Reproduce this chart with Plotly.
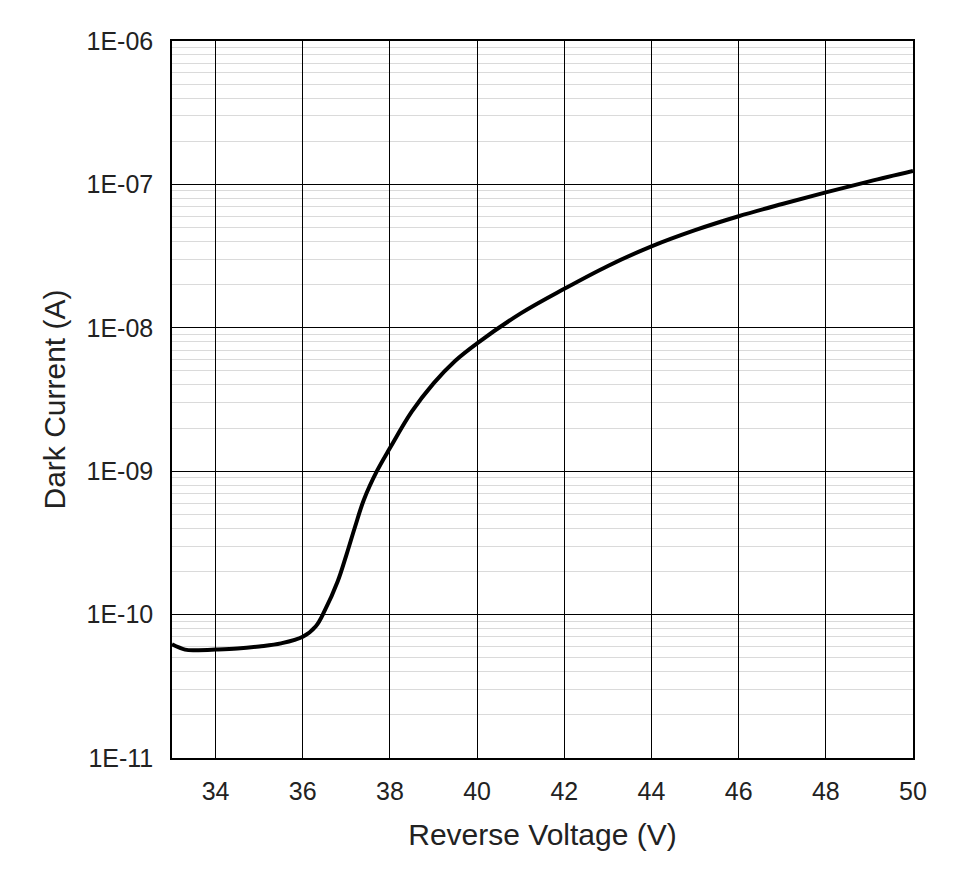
import numpy as np
import plotly.graph_objects as go

voltage = [33.0, 33.3, 33.6, 34.0, 34.5, 35.0, 35.5, 36.0, 36.3, 36.5, 36.8, 37.0, 37.2,
           37.4, 37.7, 38.0, 38.5, 39.0, 39.5, 40.0, 41.0, 42.0, 43.0, 44.0, 45.0, 46.0,
           47.0, 48.0, 49.0, 50.0]
current = [6.2e-11, 5.7e-11, 5.65e-11, 5.7e-11, 5.8e-11, 6.0e-11, 6.3e-11, 7.0e-11, 8.3e-11,
           1.06e-10, 1.7e-10, 2.6e-10, 4.1e-10, 6.3e-10, 1.0e-9, 1.45e-9, 2.6e-9, 4.1e-9,
           5.9e-9, 7.8e-9, 1.26e-8, 1.87e-8, 2.7e-8, 3.7e-8, 4.8e-8, 6.0e-8, 7.3e-8, 8.8e-8,
           1.05e-7, 1.24e-7]

y_ticks = [1e-11, 1e-10, 1e-9, 1e-8, 1e-7, 1e-6]
y_labels = ["1E-11", "1E-10", "1E-09", "1E-08", "1E-07", "1E-06"]
x_ticks = [34, 36, 38, 40, 42, 44, 46, 48, 50]

minor_vals = [m * d for d in y_ticks[:-1] for m in range(2, 10)]

fig = go.Figure(go.Scatter(x=voltage, y=current, mode="lines",
                           line=dict(color="black", width=4, shape="spline", smoothing=1.0)))

fig.update_layout(
    width=968, height=879,
    margin=dict(l=164, r=63, t=33, b=129),
    plot_bgcolor="white", paper_bgcolor="white",
    font=dict(family="Liberation Sans, Arial", size=25, color="#222"),
    showlegend=False,
)
fig.update_xaxes(
    range=[33, 50], tickvals=x_ticks, showgrid=True, gridcolor="black", gridwidth=1,
    showline=True, linecolor="black", linewidth=1.5, mirror=True, ticks="",
    ticklabelstandoff=10,
    title=dict(text="Reverse Voltage (V)", standoff=20),
)
fig.update_yaxes(
    type="log", range=[-11, -6], tickvals=y_ticks, ticktext=y_labels,
    showgrid=True, gridcolor="black", gridwidth=1,
    minor=dict(tickvals=minor_vals, showgrid=True, gridcolor="#dadada", gridwidth=1, ticks=""),
    showline=True, linecolor="black", linewidth=1.5, mirror=True, ticks="",
    ticklabelstandoff=12,
    title=dict(text="Dark Current (A)", standoff=12),
)
fig.write_html("out.html")
